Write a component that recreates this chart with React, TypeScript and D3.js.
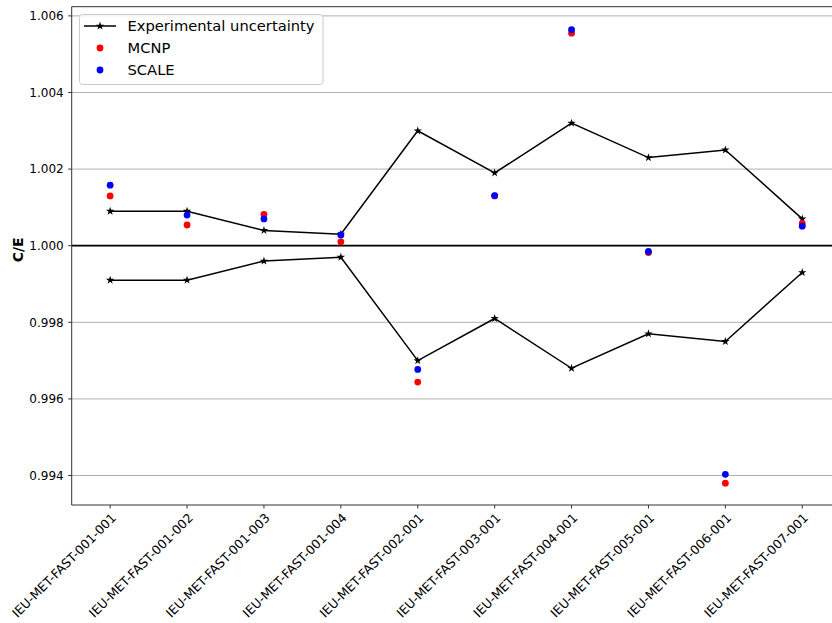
import React from "react";
import * as d3 from "d3";

const categories = [
  "IEU-MET-FAST-001-001",
  "IEU-MET-FAST-001-002",
  "IEU-MET-FAST-001-003",
  "IEU-MET-FAST-001-004",
  "IEU-MET-FAST-002-001",
  "IEU-MET-FAST-003-001",
  "IEU-MET-FAST-004-001",
  "IEU-MET-FAST-005-001",
  "IEU-MET-FAST-006-001",
  "IEU-MET-FAST-007-001",
];
const expUpper = [1.0009, 1.0009, 1.0004, 1.0003, 1.003, 1.0019, 1.0032, 1.0023, 1.0025, 1.0007];
const expLower = [0.9991, 0.9991, 0.9996, 0.9997, 0.997, 0.9981, 0.9968, 0.9977, 0.9975, 0.9993];
const mcnp = [1.0013, 1.00054, 1.00082, 1.0001, 0.99644, 1.0013, 1.00555, 0.99982, 0.9938, 1.00058];
const scale = [1.00158, 1.0008, 1.0007, 1.00028, 0.99677, 1.00131, 1.00564, 0.99985, 0.99403, 1.00051];
const yTicks = [0.994, 0.996, 0.998, 1.0, 1.002, 1.004, 1.006];
const legendLabels = ["Experimental uncertainty", "MCNP", "SCALE"];

const W = 832;
const H = 623;
const left = 71.7;
const right = 840.7;
const top = 6.7;
const bottom = 505;

export default function App() {
  const x = d3.scaleLinear().domain([-0.5, categories.length - 0.5]).range([left, right]);
  const y = d3.scaleLinear().domain([0.99323, 1.00624]).range([bottom, top]);
  const line = d3
    .line<number>()
    .x((_, i) => x(i))
    .y((d) => y(d));
  const star = d3.symbol().type(d3.symbolStar).size(22)() as string;
  const font = "DejaVu Sans, sans-serif";

  return (
    <svg width={W} height={H} style={{ position: "absolute", left: 0, top: 0, background: "#fff" }} fontFamily={font}>
      <defs>
        <clipPath id="plot">
          <rect x={left} y={top} width={right - left} height={bottom - top} />
        </clipPath>
      </defs>
      {yTicks.map((t) => (
        <line key={"g" + t} x1={left} x2={right} y1={y(t)} y2={y(t)} stroke="#b0b0b0" strokeWidth={1} />
      ))}
      <g clipPath="url(#plot)">
        <line x1={left} x2={right} y1={y(1)} y2={y(1)} stroke="#000" strokeWidth={1.8} />
        <path d={line(expUpper) as string} fill="none" stroke="#000" strokeWidth={1.5} />
        <path d={line(expLower) as string} fill="none" stroke="#000" strokeWidth={1.5} />
        {expUpper.map((v, i) => (
          <path key={"su" + i} d={star} transform={`translate(${x(i)},${y(v)})`} fill="#000" />
        ))}
        {expLower.map((v, i) => (
          <path key={"sl" + i} d={star} transform={`translate(${x(i)},${y(v)})`} fill="#000" />
        ))}
        {mcnp.map((v, i) => (
          <circle key={"m" + i} cx={x(i)} cy={y(v)} r={3.4} fill="#ff0000" />
        ))}
        {scale.map((v, i) => (
          <circle key={"s" + i} cx={x(i)} cy={y(v)} r={3.4} fill="#0000ff" />
        ))}
      </g>
      <line x1={left} x2={left} y1={top} y2={bottom} stroke="#333" strokeWidth={1} />
      <line x1={left} x2={right} y1={top} y2={top} stroke="#333" strokeWidth={1} />
      <line x1={left} x2={right} y1={bottom} y2={bottom} stroke="#333" strokeWidth={1} />
      {yTicks.map((t) => (
        <g key={"yt" + t}>
          <line x1={left - 3.5} x2={left} y1={y(t)} y2={y(t)} stroke="#333" strokeWidth={1} />
          <text x={left - 8} y={y(t)} dy="0.36em" textAnchor="end" fontSize={12} fill="#000">
            {d3.format(".3f")(t)}
          </text>
        </g>
      ))}
      <text
        transform={`translate(23,${(top + bottom) / 2 - 6}) rotate(-90)`}
        textAnchor="middle"
        fontSize={14}
        fontWeight="bold"
        fill="#000"
      >
        C/E
      </text>
      {categories.map((c, i) => (
        <g key={"xt" + i}>
          <line x1={x(i)} x2={x(i)} y1={bottom} y2={bottom + 3.5} stroke="#333" strokeWidth={1} />
          <text
            transform={`translate(${x(i)},${bottom + 7}) rotate(-45)`}
            textAnchor="end"
            dy="0.76em"
            fontSize={12.5}
            fill="#000"
          >
            {c}
          </text>
        </g>
      ))}
      <rect x={79.5} y={14.5} width={243.5} height={70} rx={3} fill="#fff" fillOpacity={0.8} stroke="#cccccc" strokeWidth={1} />
      <line x1={84} x2={116} y1={26} y2={26} stroke="#000" strokeWidth={1.5} />
      <path d={star} transform="translate(100,26)" fill="#000" />
      <circle cx={100} cy={48} r={3.4} fill="#ff0000" />
      <circle cx={100} cy={70} r={3.4} fill="#0000ff" />
      {legendLabels.map((l, i) => (
        <text key={l} x={127.5} y={26 + i * 22} dy="0.36em" fontSize={14.7} fill="#000">
          {l}
        </text>
      ))}
    </svg>
  );
}
